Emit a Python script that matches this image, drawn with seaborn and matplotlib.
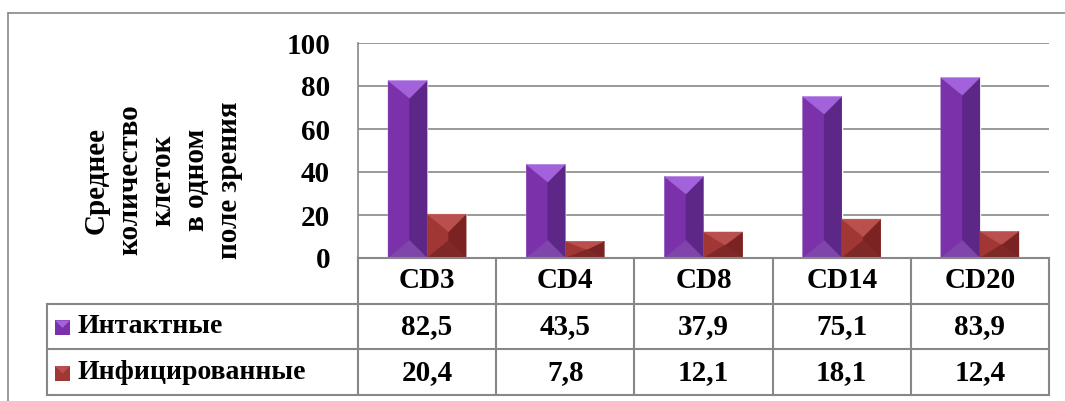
import matplotlib
matplotlib.use("Agg")
import matplotlib.pyplot as plt
from matplotlib.patches import Polygon, Rectangle
from matplotlib.lines import Line2D
import pandas as pd
import seaborn as sns

# DATA
categories = ["CD3", "CD4", "CD8", "CD14", "CD20"]
intact = [82.5, 43.5, 37.9, 75.1, 83.9]
infected = [20.4, 7.8, 12.1, 18.1, 12.4]
series_names = ["Интактные", "Инфицированные"]
y_ticks = [0, 20, 40, 60, 80, 100]
y_label = "Среднее\nколичество\nклеток\nв одном\nполе зрения"

# shades per series: left face, right face, top, bottom
shades = {
    "Интактные": ("#7a31aa", "#5d2788", "#a262dc", "#7f45aa"),
    "Инфицированные": ("#a03735", "#7a2322", "#b9504d", "#7e2828"),
}

W, H = 1065, 401
GRID = "#878787"
FONT = dict(family="Liberation Serif", weight="bold")


def fmt(v):
    return f"{v:.1f}".replace(".", ",")


def bevel(ax, patch, cols):
    # draws the pyramid-like bevel of the old office 3D bars
    x0, w, h = patch.get_x(), patch.get_width(), patch.get_height()
    x1, xc = x0 + w, x0 + w * 0.55
    px = ax.transData.transform([(x0, 0), (x1, 0)])
    half_px = (px[1, 0] - px[0, 0]) / 2
    y_per_px = (ax.get_ylim()[1] - ax.get_ylim()[0]) / ax.bbox.height
    d = min(half_px * 0.9 * y_per_px, h / 2)
    left, right, top, bottom = cols
    polys = [
        ([(x0, 0), (x0, h), (xc, h - d), (xc, d)], left),
        ([(x1, 0), (x1, h), (xc, h - d), (xc, d)], right),
        ([(x0, h), (x1, h), (xc, h - d)], top),
        ([(x0, 0), (x1, 0), (xc, d)], bottom),
    ]
    for pts, c in polys:
        ax.add_patch(Polygon(pts, closed=True, facecolor=c, edgecolor=c,
                             lw=0.3, zorder=3))


def main():
    sns.set_theme(style="white")
    plt.rcParams["font.family"] = ["Liberation Serif", "DejaVu Serif"]
    plt.rcParams["font.weight"] = "bold"

    df = pd.DataFrame({
        "category": categories * 2,
        "series": [series_names[0]] * len(categories) + [series_names[1]] * len(categories),
        "value": intact + infected,
    })

    fig = plt.figure(figsize=(W / 100, H / 100), dpi=100)
    ax = fig.add_axes([358 / W, 1 - 258 / H, 691 / W, 215 / H])
    sns.barplot(data=df, x="category", y="value", hue="series",
                palette=[shades[s][0] for s in series_names], width=0.565,
                saturation=1, legend=False, ax=ax)
    ax.set_xlim(-0.5, len(categories) - 0.5)
    ax.set_ylim(0, 100)
    ax.set_xlabel("")
    ax.set_ylabel("")
    ax.set_xticks([])
    ax.set_yticks(y_ticks)
    ax.set_yticklabels([str(t) for t in y_ticks], fontsize=21, **FONT)
    ax.tick_params(axis="y", length=0, pad=20, colors="black")
    ax.set_axisbelow(True)
    ax.yaxis.grid(True, color=GRID, lw=1.2)
    for s in ["top", "right", "bottom"]:
        ax.spines[s].set_visible(False)
    ax.spines["left"].set_color(GRID)
    ax.spines["left"].set_linewidth(1.2)

    for name, cont in zip(series_names, ax.containers):
        for p in cont.patches:
            bevel(ax, p, shades[name])

    fig.text(163 / W, 1 - 180 / H, y_label, rotation=90, ha="center", va="center",
             multialignment="center", fontsize=21, linespacing=1.3, color="black",
             **FONT)

    # data table under the bars
    tax = fig.add_axes([358 / W, 1 - 395 / H, 691 / W, 137 / H])
    tax.set_xlim(-0.5, len(categories) - 0.5)
    tax.set_ylim(0, 3)
    tax.axis("off")
    col_px = 691 / len(categories)
    left_edge = -0.5 - (358 - 47) / col_px
    kw = dict(color=GRID, lw=1.5, clip_on=False, solid_capstyle="projecting")
    tax.plot([-0.5, len(categories) - 0.5], [3, 3], **kw)
    for yy in [2, 1, 0]:
        tax.plot([left_edge, len(categories) - 0.5], [yy, yy], **kw)
    for i in range(len(categories) + 1):
        tax.plot([i - 0.5, i - 0.5], [0, 3], **kw)
    tax.plot([left_edge, left_edge], [0, 2], **kw)

    for i, c in enumerate(categories):
        tax.text(i, 2.5, c, ha="center", va="center", fontsize=21, color="black", **FONT)
        tax.text(i, 1.5, fmt(intact[i]), ha="center", va="center", fontsize=21,
                 color="black", **FONT)
        tax.text(i, 0.5, fmt(infected[i]), ha="center", va="center", fontsize=21,
                 color="black", **FONT)

    sq_w = 15 / col_px
    sq_h = 15 / (137 / 3)
    for row, name in zip([1.5, 0.5], series_names):
        x0 = -0.5 - (358 - 55) / col_px
        y0 = row - sq_h / 2 - 0.03
        tax.add_patch(Rectangle((x0, y0), sq_w, sq_h,
                                facecolor=shades[name][0], edgecolor="none",
                                clip_on=False))
        tax.add_patch(Polygon([(x0, y0 + sq_h), (x0 + sq_w, y0 + sq_h),
                               (x0 + sq_w / 2, y0 + sq_h / 2)],
                              facecolor=shades[name][2], edgecolor="none",
                              clip_on=False))
        tax.text(-0.5 - (358 - 77) / col_px, row, name, ha="left", va="center",
                 fontsize=20, color="black", **FONT)

    # outer chart frame
    fig.add_artist(Line2D([8 / W, 8 / W], [0, 1 - 13 / H], color=GRID, lw=1.2))
    fig.add_artist(Line2D([8 / W, 1], [1 - 13 / H, 1 - 13 / H], color=GRID, lw=1.2))

    fig.savefig("out.png", dpi=100)


if __name__ == "__main__":
    main()
